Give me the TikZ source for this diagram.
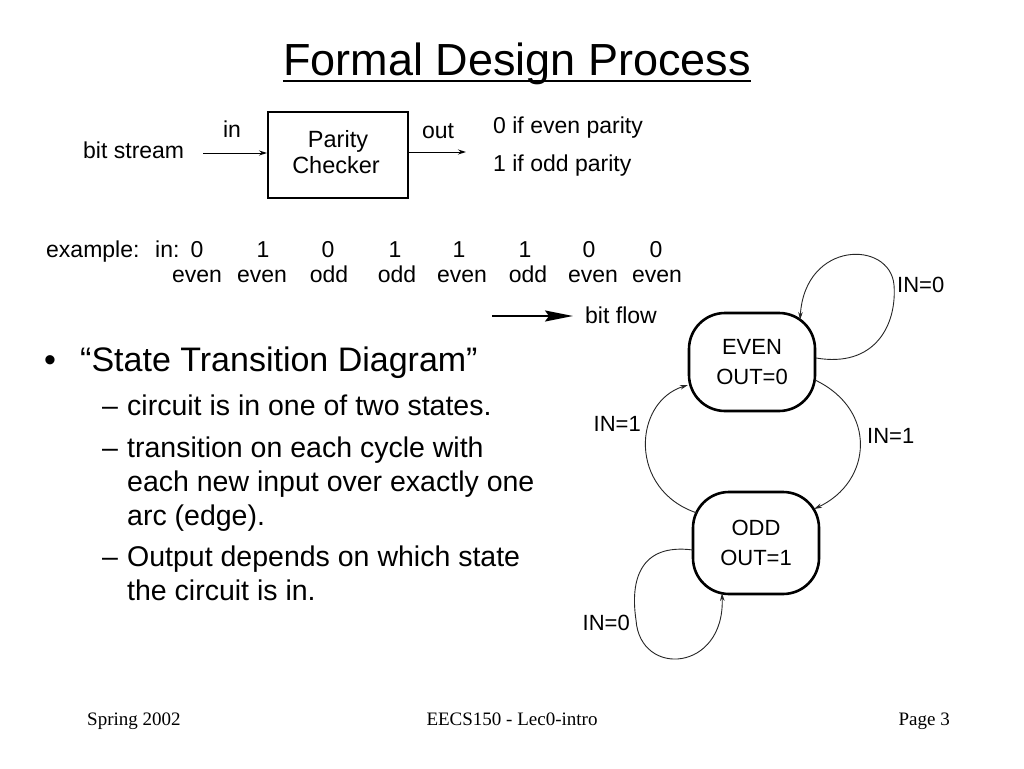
\documentclass[tikz,border=0pt]{standalone}
\usepackage{fontspec}
\setmainfont{Liberation Sans}
\newfontfamily\footfont{Liberation Serif}
\usetikzlibrary{arrows.meta}
\newcommand\myfs[1]{\fontsize{#1}{#1}\selectfont}
\begin{document}
\begin{tikzpicture}[x=1pt,y=-1pt,
  lbl/.style={inner sep=0pt, anchor=base},
  lblw/.style={inner sep=0pt, anchor=base west},
  lble/.style={inner sep=0pt, anchor=base east},
  top/.style={font=\myfs{23}},
  arr/.style={line width=1pt, -{Stealth[length=8pt,width=5pt]}},
  tr/.style={line width=0.9pt, draw=black!85, -{Stealth[length=8pt,width=4.5pt]}},
  state/.style={draw, line width=2.6pt, rounded corners=36pt, minimum width=126pt,
    minimum height=98pt, inner sep=0pt, align=center, font=\fontsize{22}{30}\selectfont},
  edgelbl/.style={inner sep=0pt, font=\myfs{22}},
  body/.style={inner sep=0pt, anchor=base west, font=\myfs{28.5}},
  foot/.style={inner sep=0pt, font=\footfont\myfs{19}}
]
\useasboundingbox (0,0) rectangle (1024,768);
\fill[white] (0,0) rectangle (1024,768);

% Title
\node[lbl, font=\myfs{45}] (title) at (517,75) {Formal Design Process};
\draw[line width=2.6pt] ([yshift=-6pt]title.base west) -- ([yshift=-6pt]title.base east);

% Parity checker block
\node[draw, line width=2pt, minimum width=140pt, minimum height=86pt, inner sep=0pt] (pc) at (338,155) {};
\node[lbl, font=\myfs{23.5}] (pc1) at (338,147) {Parity};
\node[lbl, font=\myfs{23.5}] (pc2) at (336,173) {Checker};
\node[lblw, top] (bs) at (83,158) {bit stream};
\coordinate (inS) at (203,153);
\draw[arr] (inS) -- (inS -| pc.west);
\node[lbl, top] (inl) at (232,137) {in};
\coordinate (outE) at (466,152);
\draw[arr] (outE -| pc.east) -- (outE);
\node[lbl, top] (outl) at (438,138) {out};
\node[lblw, top] (p0) at (493,133) {0 if even parity};
\node[lblw, top] (p1) at (493,171) {1 if odd parity};

% Example
\node[lblw, top] (ex) at (46,257) {example:};
\node[lblw, top] (exin) at (155,257) {in:};
\node[lbl, top] (d1) at (197,257) {0};
\node[lbl, top] (d2) at (263,257) {1};
\node[lbl, top] (d3) at (328,257) {0};
\node[lbl, top] (d4) at (395,257) {1};
\node[lbl, top] (d5) at (459,257) {1};
\node[lbl, top] (d6) at (525,257) {1};
\node[lbl, top] (d7) at (589,257) {0};
\node[lbl, top] (d8) at (656,257) {0};
\node[lbl, top] (e1) at (197,282) {even};
\node[lbl, top] (e2) at (262,282) {even};
\node[lbl, top] (e3) at (329,282) {odd};
\node[lbl, top] (e4) at (397,282) {odd};
\node[lbl, top] (e5) at (462,282) {even};
\node[lbl, top] (e6) at (528,282) {odd};
\node[lbl, top] (e7) at (593,282) {even};
\node[lbl, top] (e8) at (657,282) {even};
\coordinate (bf0) at (492,316);
\node[lblw, top] (bft) at (585,323) {bit flow};
\draw[line width=2pt, -{Stealth[length=28pt,width=11pt,inset=4pt]}] (bf0) -- (573,316);

% Bullets
\node[lblw, font=\myfs{34}] (bul) at (44,371) {•};
\node[lblw, font=\myfs{34}] (b0) at (80,371) {“State Transition Diagram”};
\node[body] (da) at (102,415) {–};
\node[body] (t1) at (127,415) {circuit is in one of two states.};
\node[body] (db) at (102,457) {–};
\node[body] (t2) at (127,457) {transition on each cycle with};
\node[body] (t3) at (127,491) {each new input over exactly one};
\node[body] (t4) at (127,525) {arc (edge).};
\node[body] (dc) at (102,566) {–};
\node[body] (t5) at (127,566) {Output depends on which state};
\node[body] (t6) at (127,600) {the circuit is in.};

% State diagram
\node[state] (even) at (752,362) {EVEN\\OUT=0};
\node[state, minimum height=102pt] (odd) at (756,543) {ODD\\OUT=1};

\draw[tr] ([shift={(64,-4)}]even.center) .. controls (875,368) and (897,325) .. (894,285)
  .. controls (890,240) and (805,240) .. ([shift={(48,-42)}]even.center);
\node[lblw, edgelbl] (l1) at (897,292) {IN=0};

\draw[tr] ([shift={(63,18)}]even.center) .. controls (878,410) and (872,482) .. ([shift={(58,-34)}]odd.center);
\node[lblw, edgelbl] (l2) at (867,443) {IN=1};

\draw[tr] ([shift={(-59,-30)}]odd.center) .. controls (628,490) and (633,402) .. ([shift={(-64,23)}]even.center);
\node[lble, edgelbl] (l3) at (641,431) {IN=1};

\draw[tr] ([shift={(-63,7)}]odd.center) .. controls (640,543) and (630,580) .. (636,620)
  .. controls (640,678) and (725,672) .. ([shift={(-34,50)}]odd.center);
\node[lble, edgelbl] (l4) at (630,630) {IN=0};

% Footer
\node[foot, anchor=base west] (f1) at (87,725) {Spring 2002};
\node[foot, anchor=base] (f2) at (512,725) {EECS150 - Lec0-intro};
\node[foot, anchor=base east] (f3) at (950,725) {Page 3};
\end{tikzpicture}
\end{document}
